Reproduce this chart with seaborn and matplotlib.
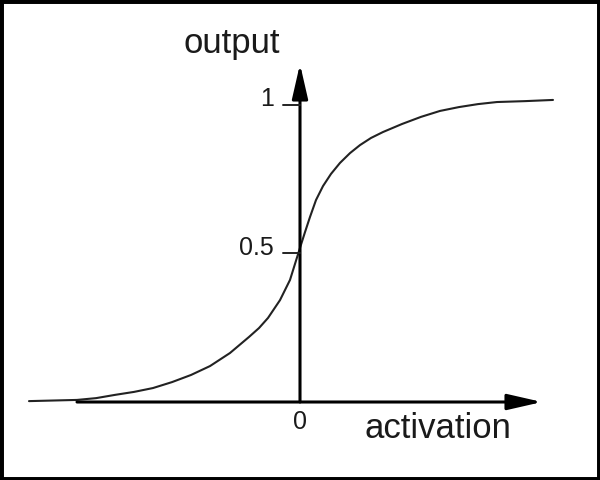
import matplotlib
matplotlib.use("Agg")
import matplotlib.pyplot as plt
import seaborn as sns
import pandas as pd

# Values
activation = [-5.42, -4.46, -4.08, -3.70, -3.32, -2.94, -2.56, -2.18, -1.80, -1.40,
              -1.02, -0.82, -0.64, -0.40, -0.20, 0.00, 0.10, 0.20, 0.32, 0.46,
              0.62, 0.80, 1.00, 1.20, 1.42, 1.66, 2.04, 2.42, 2.80, 3.18,
              3.56, 3.94, 4.50, 5.06]
output = [0.003, 0.007, 0.013, 0.024, 0.034, 0.047, 0.067, 0.091, 0.121, 0.165,
          0.219, 0.249, 0.283, 0.343, 0.411, 0.519, 0.572, 0.623, 0.680, 0.727,
          0.768, 0.805, 0.838, 0.865, 0.889, 0.909, 0.936, 0.960, 0.980, 0.993,
          1.003, 1.010, 1.013, 1.017]
ytick_values = [0.5, 1.0]
ytick_labels = ["0.5", "1"]
xtick_values = [0.0]
xtick_labels = ["0"]
x_label = "activation"
y_label = "output"

sns.set_theme(style="white")
plt.rcParams["font.family"] = ["Liberation Sans", "DejaVu Sans"]

df = pd.DataFrame({"activation": activation, "output": output})

fig = plt.figure(figsize=(6, 4.8), dpi=100)
ax = fig.add_axes([0, 0, 1, 1])
ax.set_xlim(-6, 6)
ax.set_ylim(-0.2626, 1.3535)

sns.lineplot(data=df, x="activation", y="output", ax=ax, color="#222222",
             linewidth=1.5, zorder=3)

# axes with arrows
arrow_style = "-|>,head_length=1.05,head_width=0.24"
ax.annotate("", xy=(4.84, 0), xytext=(-4.46, 0),
            arrowprops=dict(arrowstyle=arrow_style, color="black", lw=2.2,
                            mutation_scale=20, shrinkA=0, shrinkB=0), zorder=4)
ax.annotate("", xy=(0, 1.138), xytext=(0, 0),
            arrowprops=dict(arrowstyle=arrow_style, color="black", lw=2.2,
                            mutation_scale=20, shrinkA=0, shrinkB=0), zorder=4)

# y ticks and labels
for v, lab in zip(ytick_values, ytick_labels):
    ax.plot([-0.35, 0], [v, v], color="#222222", lw=1.4, zorder=4)
    ax.text(-0.52, v + 0.02, lab, ha="right", va="center", fontsize=18,
            color="#1a1a1a")

# x tick labels
for v, lab in zip(xtick_values, xtick_labels):
    ax.text(v, -0.067, lab, ha="center", va="center", fontsize=18,
            color="#1a1a1a")

ax.text(1.3, -0.121, x_label, ha="left", va="baseline", fontsize=25,
        color="#1a1a1a")
ax.text(-1.36, 1.175, y_label, ha="center", va="baseline", fontsize=25,
        color="#1a1a1a")

ax.set_xlabel("")
ax.set_ylabel("")
ax.set_xticks([])
ax.set_yticks([])
for s in ax.spines.values():
    s.set_visible(True)
    s.set_color("black")
    s.set_linewidth(5)

fig.savefig("out.png", dpi=100)
